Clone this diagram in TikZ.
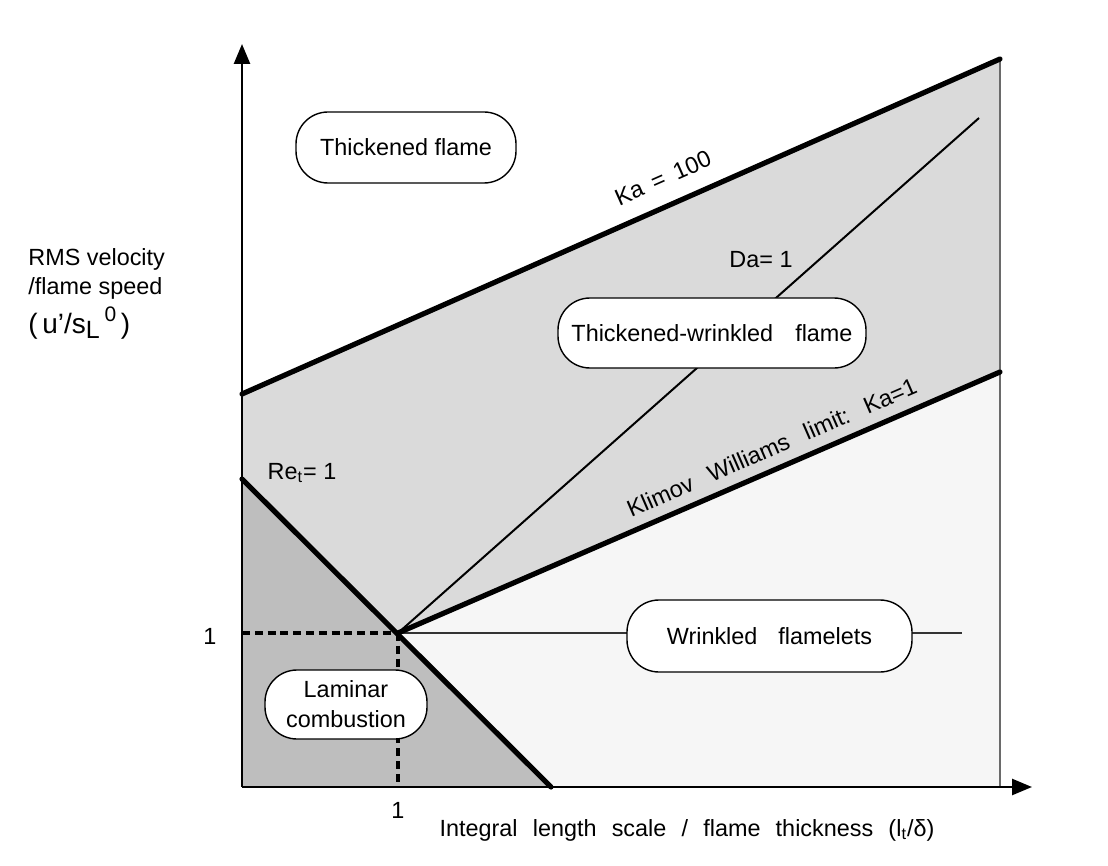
\documentclass[tikz,border=0pt]{standalone}
\usepackage{fontspec}
\setmainfont{Liberation Sans}
\usetikzlibrary{arrows.meta}
\definecolor{darkreg}{HTML}{BEBEBE}
\definecolor{midreg}{HTML}{DADADA}
\definecolor{lightreg}{HTML}{F6F6F6}
\definecolor{bordergray}{HTML}{6A6A6A}
\newcommand{\wsp}[1]{\hspace{#1em}}
\begin{document}
\begin{tikzpicture}[x=0.5pt,y=-0.5pt,
  font=\fontsize{11.7}{14}\selectfont,
  regionbox/.style={draw, rounded corners=16pt, line width=0.7pt, fill=white,
    inner sep=0pt, align=center},
  thickline/.style={line width=2.6pt, line cap=round},
  thinline/.style={line width=1pt},
  axisline/.style={line width=1.3pt, -{Triangle[length=10pt,width=8pt]}},
  dashline/.style={line width=1.7pt, dash pattern=on 4pt off 2.4pt}]
\useasboundingbox (0,0) rectangle (1108,866);
% key points
\coordinate (O) at (242,787);
\coordinate (P) at (398,633);
\coordinate (KA) at (242,394);
\coordinate (KB) at (1000,59);
\coordinate (KW) at (1000,372);
\coordinate (DA) at (979,118);
\coordinate (RA) at (242,479);
\coordinate (RB) at (551,787);
\coordinate (BR) at (1000,787);
\coordinate (WE) at (962,633);
\coordinate (Y1) at (242,633);
\coordinate (X1) at (398,787);
\coordinate (YT) at (242,44);
\coordinate (XT) at (1032,787);
% regions
\fill[midreg] (KA) -- (KB) -- (KW) -- (P) -- (RA) -- cycle;
\fill[lightreg] (P) -- (KW) -- (BR) -- (RB) -- cycle;
\fill[darkreg] (RA) -- (RB) -- (O) -- cycle;
% right border
\draw[bordergray, line width=1pt] (KB) -- (BR);
% thin lines
\draw[thinline] (P) -- (DA);
\draw[thinline, black!80] (P) -- (WE);
% dashed
\draw[dashline] (Y1) -- (P);
\draw[dashline] (P) -- (X1);
% thick boundaries
\draw[thickline] (KA) -- (KB);
\draw[thickline] (P) -- (KW);
\draw[thickline] (RA) -- (RB);
% axes
\draw[axisline] (O) -- (YT);
\draw[axisline] (O) -- (XT);
% line labels
\path (KA) -- (KB) node[pos=0.57, sloped, above=6pt] (ka100) {Ka\wsp{0.45}=\wsp{0.45}100};
\path (P) -- (KW) node[pos=0.635, sloped, above=3pt] (kwl)
  {Klimov\wsp{0.75}Williams\wsp{0.75}limit:\wsp{0.75}Ka=1};
\node (da) at (761,260) {Da= 1};
\node (re) at (302,473) {Re\textsubscript{t}= 1};
% ticks
\node (ty) at (210,636) {1};
\node (tx) at (398,810) {1};
% regions labels
\node[regionbox, minimum width=110pt, minimum height=35.5pt] (tf) at (406,147.5) {Thickened flame};
\node[regionbox, minimum width=154pt, minimum height=35pt] (twf) at (712,333) {Thickened-wrinkled\wsp{0.95}flame};
\node[regionbox, minimum width=142.5pt, minimum height=36pt] (wf) at (769.5,636) {Wrinkled\wsp{0.9}flamelets};
\node[regionbox, minimum width=81pt, minimum height=34.5pt, font=\fontsize{11.7}{15}\selectfont] (lc) at (346,704.5) {Laminar\\combustion};
% axis labels
\node[anchor=base west, inner sep=0pt] (yl1) at (28,265) {RMS velocity};
\node[anchor=base west, inner sep=0pt] (yl2) at (28,294) {/flame speed};
\node[anchor=base west, inner sep=0pt, font=\fontsize{14}{16}\selectfont] (yl3) at (28,333)
  {(\,u'/s\raisebox{-0.35ex}{\fontsize{12.5}{14}\selectfont L}\,\raisebox{0.75ex}{\fontsize{10.5}{12}\selectfont 0}\,)};
\node (xl) at (687,830) {Integral\wsp{0.65}length\wsp{0.65}scale\wsp{0.65}/\wsp{0.65}flame\wsp{0.65}thickness\wsp{0.65}(l\textsubscript{t}/δ)};
\end{tikzpicture}
\end{document}
